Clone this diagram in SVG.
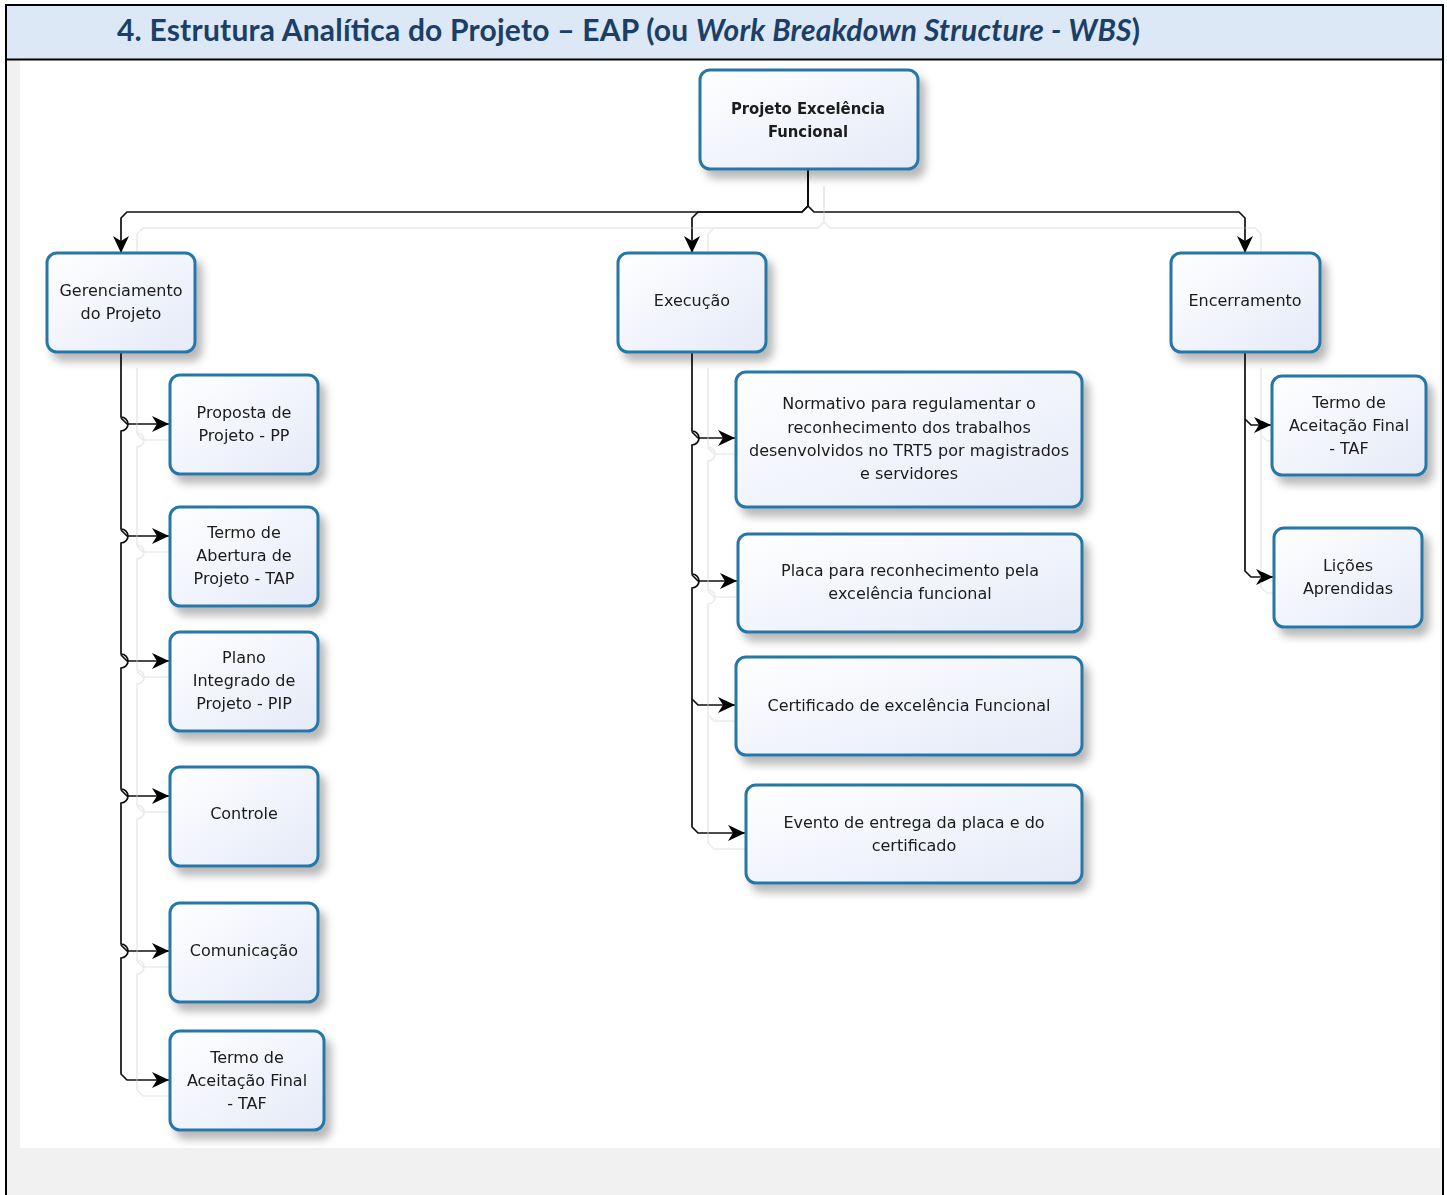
<svg xmlns="http://www.w3.org/2000/svg" width="1447" height="1195" viewBox="0 0 1447 1195">
<style>
.node rect{fill:url(#nodeGrad);stroke:#2676a8;stroke-width:3}
.node text{font-family:"DejaVu Sans","Liberation Sans",sans-serif;font-size:16px;fill:#1a1a1a;text-anchor:middle}
.node text.b{font-family:"DejaVu Sans Condensed","DejaVu Sans",sans-serif;font-weight:bold;font-size:16.5px}
#connectors path{fill:none;stroke:#111;stroke-width:1.7;marker-end:url(#arrow)}
.hdr{font-family:Lato,"Liberation Sans",sans-serif;font-weight:bold;font-size:30px;fill:#1b3f66}
</style>
<defs>
<linearGradient id="nodeGrad" x1="0" y1="0" x2="1" y2="1">
<stop offset="0" stop-color="#ffffff"/>
<stop offset="1" stop-color="#e5eaf8"/>
</linearGradient>
<filter id="nodeShadow" x="-20%" y="-20%" width="150%" height="160%">
<feDropShadow dx="6" dy="8" stdDeviation="4" flood-color="#000" flood-opacity="0.28"/>
</filter>
<filter id="lineShadow" filterUnits="userSpaceOnUse" x="0" y="0" width="1447" height="1195">
<feOffset in="SourceAlpha" dx="16" dy="16" result="o"/>
<feFlood flood-color="#ebebeb"/>
<feComposite in2="o" operator="in" result="s"/>
<feMerge><feMergeNode in="s"/><feMergeNode in="SourceGraphic"/></feMerge>
</filter>
<marker id="arrow" viewBox="0 0 17 16" refX="17" refY="8" markerWidth="17" markerHeight="16" markerUnits="userSpaceOnUse" orient="auto">
<path d="M0,0 L17,8 L0,16 L5,8 Z" fill="#000"/>
</marker>
</defs>

<!-- page -->
<rect x="0" y="0" width="1447" height="1195" fill="#ffffff"/>
<rect x="6" y="5" width="1437" height="1190" fill="#f1f1f1"/>
<rect x="20" y="60" width="1420" height="1088" fill="#ffffff"/>
<rect x="6" y="5" width="1437" height="54" fill="#dce8f5"/>
<g stroke="#000" stroke-width="2" fill="none">
<path d="M6,1195 V5 H1443 V1195"/>
<path d="M6,59.5 H1443"/>
</g>
<text class="hdr" x="117" y="41" textLength="1023" lengthAdjust="spacing">4. Estrutura Analítica do Projeto – EAP (ou <tspan font-style="italic">Work Breakdown Structure - WBS</tspan>)</text>

<g id="connectors" filter="url(#lineShadow)">
<path d="M808,170 V206 L802,212 H127 L121,218 V253"/>
<path d="M808,170 V206 L802,212 H698 L692,218 V253"/>
<path d="M808,170 V206 L814,212 H1239 L1245,218 V253"/>
<path d="M121,352 V417 A7,7 0 0 1 121,431 V529 A7,7 0 0 1 121,543 V654 A7,7 0 0 1 121,668 V789 A7,7 0 0 1 121,803 V944 A7,7 0 0 1 121,958 V1074 L127,1080 H169"/>
<path d="M121,418 L127,424 H169"/>
<path d="M121,530 L127,536 H169"/>
<path d="M121,655 L127,661 H169"/>
<path d="M121,790 L127,796 H169"/>
<path d="M121,945 L127,951 H169"/>
<path d="M692,352 V431 A7,7 0 0 1 692,445 V574 A7,7 0 0 1 692,588 V827 L698,833 H745"/>
<path d="M692,432 L698,438 H735"/>
<path d="M692,575 L698,581 H737"/>
<path d="M692,699 L698,705 H735"/>
<path d="M1245,352 V571 L1251,577 H1273"/>
<path d="M1245,419 L1251,425 H1271"/>
</g>

<g id="nodes" filter="url(#nodeShadow)">
<g class="node" id="root"><rect x="700" y="70" width="218" height="99" rx="10"/><text class="b" x="808" y="114">Projeto Excelência</text><text class="b" x="808" y="137">Funcional</text></g>
<g class="node" id="gerenciamento"><rect x="47" y="253" width="148" height="99" rx="10"/><text x="121" y="296">Gerenciamento</text><text x="121" y="319">do Projeto</text></g>
<g class="node" id="execucao"><rect x="618" y="253" width="148" height="99" rx="10"/><text x="692" y="306">Execução</text></g>
<g class="node" id="encerramento"><rect x="1171" y="253" width="149" height="99" rx="10"/><text x="1245" y="306">Encerramento</text></g>
<g class="node" id="proposta"><rect x="170" y="375" width="148" height="99" rx="10"/><text x="244" y="418">Proposta de</text><text x="244" y="441">Projeto - PP</text></g>
<g class="node" id="tap"><rect x="170" y="507" width="148" height="99" rx="10"/><text x="244" y="538">Termo de</text><text x="244" y="561">Abertura de</text><text x="244" y="584">Projeto - TAP</text></g>
<g class="node" id="pip"><rect x="170" y="632" width="148" height="99" rx="10"/><text x="244" y="663">Plano</text><text x="244" y="686">Integrado de</text><text x="244" y="709">Projeto - PIP</text></g>
<g class="node" id="controle"><rect x="170" y="767" width="148" height="99" rx="10"/><text x="244" y="819">Controle</text></g>
<g class="node" id="comunicacao"><rect x="170" y="903" width="148" height="99" rx="10"/><text x="244" y="956">Comunicação</text></g>
<g class="node" id="taf-ger"><rect x="170" y="1031" width="154" height="99" rx="10"/><text x="247" y="1063">Termo de</text><text x="247" y="1086">Aceitação Final</text><text x="247" y="1109">- TAF</text></g>
<g class="node" id="normativo"><rect x="736" y="372" width="346" height="135" rx="10"/><text x="909" y="409">Normativo para regulamentar o</text><text x="909" y="433">reconhecimento dos trabalhos</text><text x="909" y="456">desenvolvidos no TRT5 por magistrados</text><text x="909" y="479">e servidores</text></g>
<g class="node" id="placa"><rect x="738" y="534" width="344" height="98" rx="10"/><text x="910" y="576">Placa para reconhecimento pela</text><text x="910" y="599">excelência funcional</text></g>
<g class="node" id="certificado"><rect x="736" y="657" width="346" height="98" rx="10"/><text x="909" y="711">Certificado de excelência Funcional</text></g>
<g class="node" id="evento"><rect x="746" y="785" width="336" height="98" rx="10"/><text x="914" y="828">Evento de entrega da placa e do</text><text x="914" y="851">certificado</text></g>
<g class="node" id="taf-enc"><rect x="1272" y="376" width="154" height="99" rx="10"/><text x="1349" y="408">Termo de</text><text x="1349" y="431">Aceitação Final</text><text x="1349" y="454">- TAF</text></g>
<g class="node" id="licoes"><rect x="1274" y="528" width="148" height="99" rx="10"/><text x="1348" y="571">Lições</text><text x="1348" y="594">Aprendidas</text></g>
</g>
</svg>
